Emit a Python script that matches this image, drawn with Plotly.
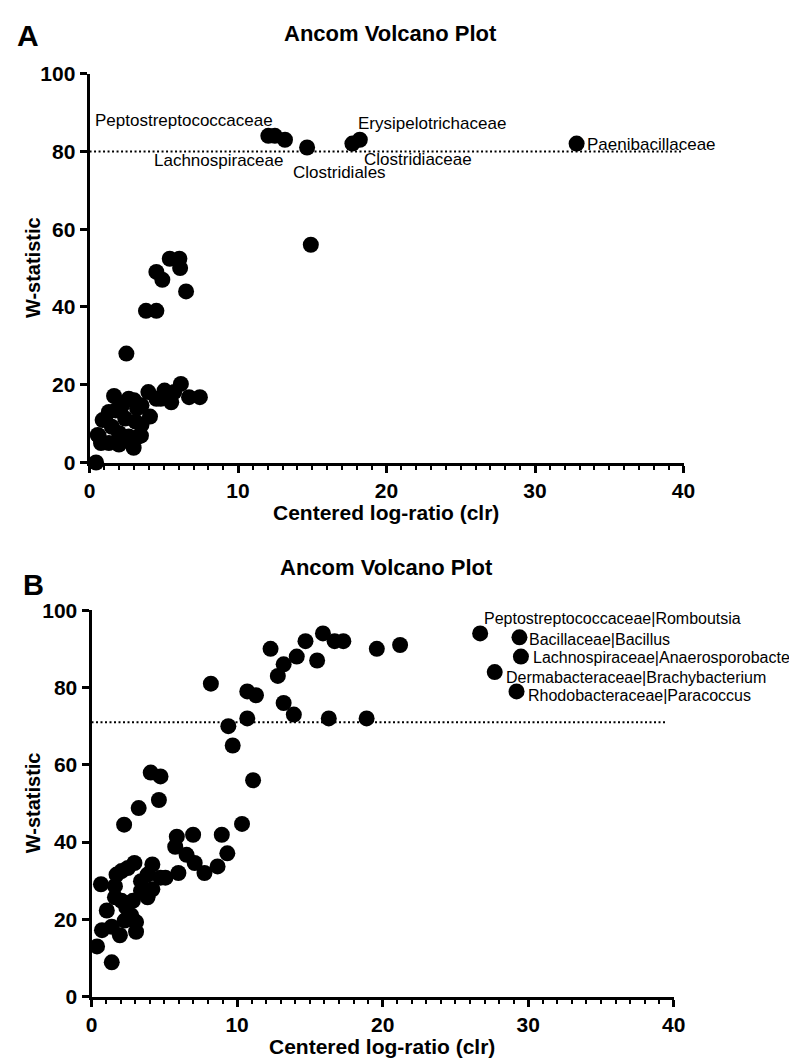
import plotly.graph_objects as go

# ---------------- DATA ----------------
# Panel A: unlabeled taxa (clr, W)
a_clr = [0.44, 0.55, 0.77, 1.3, 1.98, 0.88, 1.76, 1.3, 1.65, 2.64, 2.97, 3.3, 2.64, 4.07,
         3.5, 3.96, 4.5, 5.05, 5.5, 6.15, 5.7, 6.7, 7.43, 2.4, 3.1, 2.2, 3.2, 1.98, 3.0,
         4.8, 5.3, 1.5, 3.5, 2.4, 3.46, 1.05, 0.61,
         2.48, 3.8, 4.5, 4.5, 4.9, 5.4, 6.05, 6.1, 6.5, 14.9, 12.48]
a_w = [0, 7.1, 5, 5, 4.6, 10.9, 13.4, 13, 17.1, 16.4, 3.8, 6.7, 6.7, 11.8,
       14.7, 18.1, 16.4, 18.5, 15.5, 20.2, 18.1, 16.8, 16.8, 11.3, 10.5, 14.7, 13.9, 7.6, 16,
       16.4, 17.2, 9.2, 9.7, 5.9, 6.9, 11.1, 6.9,
       28, 39, 39, 49, 47, 52.4, 52.4, 50, 44, 56, 84]
# Panel A: labeled taxa
a_names = ["Peptostreptococcaceae", "Lachnospiraceae", "Clostridiales",
           "Clostridiaceae", "Erysipelotrichaceae", "Paenibacillaceae"]
a_names_clr = [12.04, 13.16, 14.65, 17.7, 18.2, 32.8]
a_names_w = [84, 83, 81, 82, 83, 82]
a_threshold = 80

# Panel B: unlabeled taxa
b_clr = [2.24, 5.86, 5.75, 6.98, 8.95, 9.33, 10.34, 8.66, 7.76, 7.09, 6.53, 5.97, 5.08,
         4.18, 2.95, 2.06, 2.5, 0.65, 1.61, 1.72, 1.05, 0.72, 0.38, 1.39, 1.95, 3.06,
         3.06, 2.39, 2.84, 3.4, 3.85, 4.18, 2.73, 2.06, 1.61, 2.28, 1.39, 4.74, 3.4,
         3.85, 4.07, 4.74, 4.63, 3.24,
         8.2, 9.4, 9.7, 10.7, 10.7, 11.3, 11.1, 12.3, 12.8, 13.2, 13.2, 13.9, 14.1,
         14.7, 15.5, 15.9, 16.3, 16.7, 17.3, 18.9, 19.6, 21.2]
b_w = [44.5, 41.4, 38.8, 41.9, 41.9, 37.1, 44.7, 33.7, 32.0, 34.6, 36.7, 32.0, 30.8,
       34.2, 34.6, 32.5, 33.3, 29.1, 28.6, 31.6, 22.3, 17.2, 13, 8.9, 15.9, 16.8,
       19.3, 23.1, 24.8, 27.4, 25.7, 27.8, 21.0, 24.8, 25.7, 19.7, 18.1, 30.8, 29.9,
       31.6, 58, 57, 50.9, 48.8,
       81, 70, 65, 72, 79, 78, 56, 90, 83, 86, 76, 73, 88,
       92, 87, 94, 72, 92, 92, 72, 90, 91]
# Panel B: labeled taxa
b_names = ["Peptostreptococcaceae|Romboutsia", "Bacillaceae|Bacillus",
           "Lachnospiraceae|Anaerosporobacter", "Dermabacteraceae|Brachybacterium",
           "Rhodobacteraceae|Paracoccus"]
b_names_clr = [26.7, 29.4, 29.5, 27.7, 29.2]
b_names_w = [94, 93, 88, 84, 79]
b_threshold = 71

x_ticks = [0, 10, 20, 30, 40]
y_ticks = [0, 20, 40, 60, 80, 100]

# ---------------- LAYOUT / STYLE ----------------
W, H = 797, 1062
def px(x):
    return x / W
def py(y):
    return 1 - y / H

FONT = "Arial, Liberation Sans, Helvetica, sans-serif"
MARK = dict(color="black", size=16, line=dict(width=0))
LABEL_SIZE_A = 17
LABEL_SIZE_B = 16

# label placements (xanchor, label x, label y) in data units
a_label_pos = [("right", 12.45, 88.0), ("right", 13.1, 77.7), ("left", 13.6, 74.6),
               ("left", 18.4, 77.9), ("left", 18.0, 87.3), ("left", 33.45, 81.8)]
b_label_pos = [("left", 26.9, 97.8), ("left", 30.0, 92.4), ("left", 30.25, 87.7),
               ("left", 28.4, 82.7), ("left", 29.9, 77.9)]
a_line_end = 39.9
b_line_end = 39.5

fig = go.Figure()

# threshold lines
fig.add_trace(go.Scatter(x=[0, a_line_end], y=[a_threshold, a_threshold], mode="lines",
                         line=dict(color="black", width=2, dash="2px,2.5px"),
                         xaxis="x", yaxis="y", hoverinfo="skip"))
fig.add_trace(go.Scatter(x=[0, b_line_end], y=[b_threshold, b_threshold], mode="lines",
                         line=dict(color="black", width=2, dash="2px,2.5px"),
                         xaxis="x2", yaxis="y2", hoverinfo="skip"))

# points
fig.add_trace(go.Scatter(x=a_clr + a_names_clr, y=a_w + a_names_w, mode="markers",
                         marker=MARK, cliponaxis=False, xaxis="x", yaxis="y"))
fig.add_trace(go.Scatter(x=b_clr + b_names_clr, y=b_w + b_names_w, mode="markers",
                         marker=MARK, cliponaxis=False, xaxis="x2", yaxis="y2"))

annotations = []
for name, (anc, lx, ly) in zip(a_names, a_label_pos):
    annotations.append(dict(x=lx, y=ly, xref="x", yref="y", text=name, showarrow=False,
                            xanchor=anc, yanchor="middle", borderpad=0,
                            font=dict(family=FONT, size=LABEL_SIZE_A, color="black")))
for name, (anc, lx, ly) in zip(b_names, b_label_pos):
    annotations.append(dict(x=lx, y=ly, xref="x2", yref="y2", text=name, showarrow=False,
                            xanchor=anc, yanchor="middle", borderpad=0,
                            font=dict(family=FONT, size=LABEL_SIZE_B, color="black")))

bold = dict(family=FONT, color="black", weight="bold")
def ann(text, x, y, size, angle=0, xanchor="center"):
    return dict(x=px(x), y=py(y), xref="paper", yref="paper", text=text, showarrow=False,
                xanchor=xanchor, yanchor="middle", textangle=angle,
                font=dict(size=size, **bold))

annotations += [
    ann("Ancom Volcano Plot", 385, 14, 22),
    ann("Ancom Volcano Plot", 381, 560, 22),
    ann("A", 14, 16, 30),
    ann("B", 20, 578, 29),
    ann("Centered log-ratio (clr)", 381, 503, 21),
    ann("Centered log-ratio (clr)", 377, 1049, 21),
    ann("W-statistic", 19, 253, 20, angle=-90),
    ann("W-statistic", 19, 800, 20, angle=-90),
]

def xax(domain, anchor):
    return dict(domain=domain, anchor=anchor, range=[0, 40], tickvals=x_ticks,
                showline=True, linecolor="black", linewidth=3, showgrid=False, zeroline=False,
                ticks="outside", ticklen=7, tickwidth=3, tickcolor="black",
                minor=dict(dtick=1, ticks="outside", ticklen=4, tickwidth=2, tickcolor="black"),
                tickfont=dict(size=21, **bold), fixedrange=True)

def yax(domain, anchor):
    return dict(domain=domain, anchor=anchor, range=[0, 100], tickvals=y_ticks,
                showline=True, linecolor="black", linewidth=3, showgrid=False, zeroline=False,
                ticks="outside", ticklen=7, tickwidth=3, tickcolor="black",
                tickfont=dict(size=21, **bold), fixedrange=True)

fig.update_layout(
    width=W, height=H, margin=dict(l=0, r=0, t=0, b=0),
    paper_bgcolor="white", plot_bgcolor="white", showlegend=False,
    xaxis=xax([px(77.3), px(685)], "y"),
    yaxis=yax([py(452.3), py(54.8)], "x"),
    xaxis2=xax([px(79.3), px(675)], "y2"),
    yaxis2=yax([py(998.3), py(603.3)], "x2"),
    annotations=annotations,
)

fig.write_html("out.html")
